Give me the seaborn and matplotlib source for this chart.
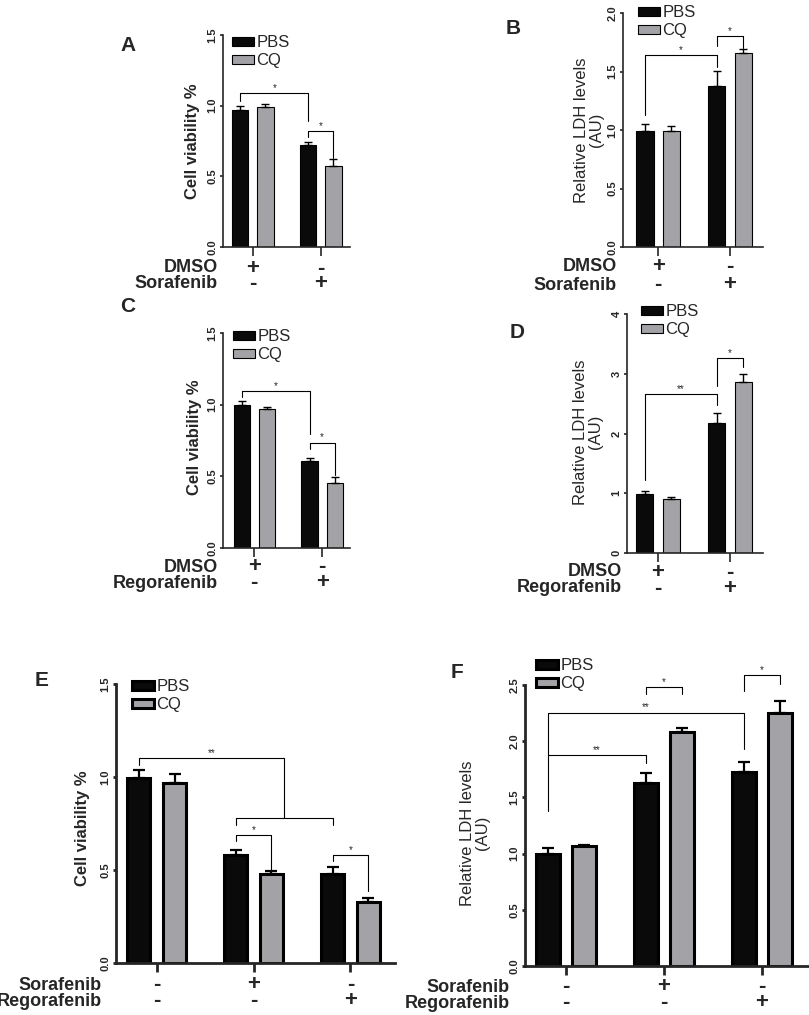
import numpy as np
import pandas as pd
import matplotlib
matplotlib.use('Agg')
import matplotlib.pyplot as plt
import seaborn as sns
from matplotlib.transforms import blended_transform_factory

# =============================================
# DATA
# =============================================
treatments = ['PBS', 'CQ']

# A - cell viability, sorafenib
a_groups = ['DMSO', 'Sorafenib']
a_pbs = [0.97, 0.725]
a_pbs_err = [0.025, 0.02]
a_cq = [0.99, 0.575]
a_cq_err = [0.025, 0.045]
a_rows = ['DMSO', 'Sorafenib']
a_signs = [['+', '-'], ['-', '+']]
a_yticks = [0.0, 0.5, 1.0, 1.5]
a_yticklabels = ['0.0', '0.5', '1.0', '1.5']
a_brackets = [((0, 0), (0, 1), 1.087, 1.03, 0.89, '*'),
              ((0, 1), (1, 1), 0.82, 0.777, 0.63, '*')]

# B - LDH, sorafenib
b_groups = ['DMSO', 'Sorafenib']
b_pbs = [0.99, 1.38]
b_pbs_err = [0.065, 0.125]
b_cq = [0.99, 1.66]
b_cq_err = [0.045, 0.03]
b_rows = ['DMSO', 'Sorafenib']
b_signs = [['+', '-'], ['-', '+']]
b_yticks = [0.0, 0.5, 1.0, 1.5, 2.0]
b_yticklabels = ['0.0', '0.5', '1.0', '1.5', '2.0']
b_brackets = [((0, 0), (0, 1), 1.64, 1.125, 1.54, '*'),
              ((0, 1), (1, 1), 1.80, 1.72, 1.70, '*')]

# C - cell viability, regorafenib
c_groups = ['DMSO', 'Regorafenib']
c_pbs = [1.0, 0.607]
c_pbs_err = [0.023, 0.021]
c_cq = [0.97, 0.456]
c_cq_err = [0.014, 0.037]
c_rows = ['DMSO', 'Regorafenib']
c_signs = [['+', '-'], ['-', '+']]
c_yticks = [0.0, 0.5, 1.0, 1.5]
c_yticklabels = ['0.0', '0.5', '1.0', '1.5']
c_brackets = [((0, 0), (0, 1), 1.095, 1.053, 0.793, '*'),
              ((0, 1), (1, 1), 0.735, 0.693, 0.507, '*')]

# D - LDH, regorafenib
d_groups = ['DMSO', 'Regorafenib']
d_pbs = [0.99, 2.17]
d_pbs_err = [0.045, 0.17]
d_cq = [0.90, 2.86]
d_cq_err = [0.04, 0.13]
d_rows = ['DMSO', 'Regorafenib']
d_signs = [['+', '-'], ['-', '+']]
d_yticks = [0, 1, 2, 3, 4]
d_yticklabels = ['0', '1', '2', '3', '4']
d_brackets = [((0, 0), (0, 1), 2.66, 1.23, 2.48, '**'),
              ((0, 1), (1, 1), 3.26, 2.79, 3.12, '*')]

# E - cell viability, both drugs
e_groups = ['ctrl', 'sora', 'rego']
e_pbs = [0.993, 0.58, 0.48]
e_pbs_err = [0.047, 0.027, 0.037]
e_cq = [0.97, 0.476, 0.329]
e_cq_err = [0.048, 0.018, 0.019]
e_rows = ['Sorafenib', 'Regorafenib']
e_signs = [['-', '+', '-'], ['-', '-', '+']]
e_yticks = [0.0, 0.5, 1.0, 1.5]
e_yticklabels = ['0.0', '0.5', '1.0', '1.5']
e_brackets = [((0, 0), ((0, 1), (0, 2)), 1.10, 1.063, 0.78, '**'),
              ((0, 1), (0, 2), 0.78, 0.742, 0.742, ''),
              ((0, 1), (1, 1), 0.686, 0.656, 0.494, '*'),
              ((0, 2), (1, 2), 0.582, 0.548, 0.386, '*')]

# F - LDH, both drugs
f_groups = ['ctrl', 'sora', 'rego']
f_pbs = [1.0, 1.625, 1.729]
f_pbs_err = [0.053, 0.092, 0.085]
f_cq = [1.067, 2.083, 2.255]
f_cq_err = [0.012, 0.037, 0.10]
f_rows = ['Sorafenib', 'Regorafenib']
f_signs = [['-', '+', '-'], ['-', '-', '+']]
f_yticks = [0.0, 0.5, 1.0, 1.5, 2.0, 2.5]
f_yticklabels = ['0.0', '0.5', '1.0', '1.5', '2.0', '2.5']
f_brackets = [((0, 0), (0, 2), 2.255, 1.383, 1.93, '**'),
              ((0, 0), (0, 1), 1.876, 1.876, 1.81, '**'),
              ((0, 1), (1, 1), 2.485, 2.417, 2.417, '*'),
              ((0, 2), (1, 2), 2.589, 2.45, 2.506, '*')]

viability_label = 'Cell viability %'
ldh_label = 'Relative LDH levels\n(AU)'

# =============================================
# LAYOUT (pixels of the 809x1015 figure)
# =============================================
W, H = 809, 1015
colors = {'PBS': '#0a0a0a', 'CQ': '#a3a3a7'}

sns.set_style('ticks')
plt.rcParams['font.family'] = ['Liberation Sans', 'DejaVu Sans']

fig = plt.figure(figsize=(W / 100, H / 100), dpi=100)


def fx(x):
    return x / W


def fy(y):
    return 1 - y / H


panels = [
    dict(letter='A', box=(223, 350, 35, 247), xlim=(-0.44, 1.43), ylim=(0, 1.5),
         groups=a_groups, pbs=a_pbs, pbs_err=a_pbs_err, cq=a_cq, cq_err=a_cq_err,
         yticks=a_yticks, yticklabels=a_yticklabels, brackets=a_brackets,
         rows=a_rows, signs=a_signs, rows_y=(268, 283), rows_x=218,
         ylabel=viability_label, ylabel_bold=True, ylabel_xy=(193, 141),
         letter_xy=(128, 45), legend_xy=(232, 35), thick=False),
    dict(letter='B', box=(623, 763, 13, 247), xlim=(-0.49, 1.46), ylim=(0, 2.0),
         groups=b_groups, pbs=b_pbs, pbs_err=b_pbs_err, cq=b_cq, cq_err=b_cq_err,
         yticks=b_yticks, yticklabels=b_yticklabels, brackets=b_brackets,
         rows=b_rows, signs=b_signs, rows_y=(267, 285), rows_x=617,
         ylabel=ldh_label, ylabel_bold=False, ylabel_xy=(589, 130),
         letter_xy=(513, 28), legend_xy=(638, 5), thick=False),
    dict(letter='C', box=(223, 350, 333, 548), xlim=(-0.46, 1.41), ylim=(0, 1.5),
         groups=c_groups, pbs=c_pbs, pbs_err=c_pbs_err, cq=c_cq, cq_err=c_cq_err,
         yticks=c_yticks, yticklabels=c_yticklabels, brackets=c_brackets,
         rows=c_rows, signs=c_signs, rows_y=(567, 583), rows_x=218,
         ylabel=viability_label, ylabel_bold=True, ylabel_xy=(195, 437),
         letter_xy=(128, 306), legend_xy=(233, 329), thick=False),
    dict(letter='D', box=(627, 763, 314, 553), xlim=(-0.43, 1.46), ylim=(0, 4),
         groups=d_groups, pbs=d_pbs, pbs_err=d_pbs_err, cq=d_cq, cq_err=d_cq_err,
         yticks=d_yticks, yticklabels=d_yticklabels, brackets=d_brackets,
         rows=d_rows, signs=d_signs, rows_y=(572, 588), rows_x=622,
         ylabel=ldh_label, ylabel_bold=False, ylabel_xy=(588, 432),
         letter_xy=(517, 332), legend_xy=(641, 304), thick=False),
    dict(letter='E', box=(116, 395, 684, 963), xlim=(-0.42, 2.46), ylim=(0, 1.5),
         groups=e_groups, pbs=e_pbs, pbs_err=e_pbs_err, cq=e_cq, cq_err=e_cq_err,
         yticks=e_yticks, yticklabels=e_yticklabels, brackets=e_brackets,
         rows=e_rows, signs=e_signs, rows_y=(985, 1001), rows_x=102,
         ylabel=viability_label, ylabel_bold=True, ylabel_xy=(83, 828),
         letter_xy=(42, 680), legend_xy=(132, 679), thick=True),
    dict(letter='F', box=(525, 808, 685, 966), xlim=(-0.42, 2.47), ylim=(0, 2.5),
         groups=f_groups, pbs=f_pbs, pbs_err=f_pbs_err, cq=f_cq, cq_err=f_cq_err,
         yticks=f_yticks, yticklabels=f_yticklabels, brackets=f_brackets,
         rows=f_rows, signs=f_signs, rows_y=(987, 1003), rows_x=510,
         ylabel=ldh_label, ylabel_bold=False, ylabel_xy=(475, 833),
         letter_xy=(457, 673), legend_xy=(536, 658), thick=True),
]


def bar_center(bars, ref):
    # ref is (hue, group) or a pair of such refs -> midpoint
    if isinstance(ref[0], tuple):
        return np.mean([bar_center(bars, r) for r in ref])
    b = bars[ref[0]][ref[1]]
    return b.get_x() + b.get_width() / 2


for p in panels:
    l, r, t, b = p['box']
    ax = fig.add_axes([l / W, 1 - b / H, (r - l) / W, (b - t) / H])
    thick = p['thick']
    spine_lw = 2.0 if thick else 1.2
    edge_lw = 2.2 if thick else 0.8

    n = len(p['groups'])
    df = pd.DataFrame({
        'group': p['groups'] * 2,
        'treatment': ['PBS'] * n + ['CQ'] * n,
        'value': p['pbs'] + p['cq'],
    })
    sns.barplot(data=df, x='group', y='value', hue='treatment',
                order=p['groups'], hue_order=treatments, palette=colors,
                saturation=1, errorbar=None, width=0.74, gap=0.35,
                edgecolor='black', linewidth=edge_lw, ax=ax)

    bars = [list(ax.containers[0]), list(ax.containers[1])]

    # error bars (upper half only, as in the figure)
    for h, (vals, errs) in enumerate([(p['pbs'], p['pbs_err']), (p['cq'], p['cq_err'])]):
        xs = [bar_center(bars, (h, g)) for g in range(n)]
        ax.errorbar(xs, vals, yerr=[np.zeros(n), errs], fmt='none', ecolor='black',
                    elinewidth=1.6 if thick else 1.0,
                    capsize=4.0 if thick else 2.6,
                    capthick=1.6 if thick else 1.0, zorder=1)

    # significance brackets
    for left, right, top, yl, yr, label in p['brackets']:
        x1 = bar_center(bars, left)
        x2 = bar_center(bars, right)
        ax.plot([x1, x1, x2, x2], [yl, top, top, yr], color='black', lw=0.8,
                clip_on=False, zorder=4)
        if label:
            ax.annotate(label, ((x1 + x2) / 2, top), xytext=(0, 1.5),
                        textcoords='offset points', ha='center', va='baseline',
                        fontsize=7, annotation_clip=False)

    ax.set_xlim(*p['xlim'])
    ax.set_ylim(*p['ylim'])
    ax.set_yticks(p['yticks'])
    ax.set_yticklabels(p['yticklabels'], rotation=90, va='center',
                       fontsize=8, fontweight='bold')
    ax.set_xticks(range(n))
    ax.set_xticklabels([])
    ax.set_xlabel('')
    ax.set_ylabel('')
    ax.tick_params(axis='y', length=2.5, width=spine_lw, pad=1.5)
    ax.tick_params(axis='x', length=6.5, width=spine_lw)
    sns.despine(ax=ax)
    for s in ['left', 'bottom']:
        ax.spines[s].set_linewidth(spine_lw)

    # legend
    handles, labels = ax.get_legend_handles_labels()
    lx, ly = p['legend_xy']
    ax.legend(handles, labels, loc='upper left',
              bbox_to_anchor=(fx(lx), fy(ly)), bbox_transform=fig.transFigure,
              frameon=False, fontsize=12, handlelength=1.3, handleheight=0.45,
              handletextpad=0.15, labelspacing=0.2, borderpad=0, borderaxespad=0)

    # treatment rows under the x-axis
    trans = blended_transform_factory(ax.transData, fig.transFigure)
    for row_name, row_signs, ry in zip(p['rows'], p['signs'], p['rows_y']):
        fig.text(fx(p['rows_x']), fy(ry), row_name, ha='right', va='center',
                 fontsize=13, fontweight='bold')
        for g, s in enumerate(row_signs):
            ax.text(g, fy(ry), s, transform=trans, ha='center', va='center',
                    fontsize=16, fontweight='bold')

    # y label and panel letter
    yx, yy = p['ylabel_xy']
    fig.text(fx(yx), fy(yy), p['ylabel'], rotation=90, ha='center', va='center',
             multialignment='center', fontsize=12,
             fontweight='bold' if p['ylabel_bold'] else 'normal', linespacing=1.0)
    lx, ly = p['letter_xy']
    fig.text(fx(lx), fy(ly), p['letter'], ha='center', va='center',
             fontsize=15, fontweight='bold')

fig.savefig('out.png', dpi=100)
